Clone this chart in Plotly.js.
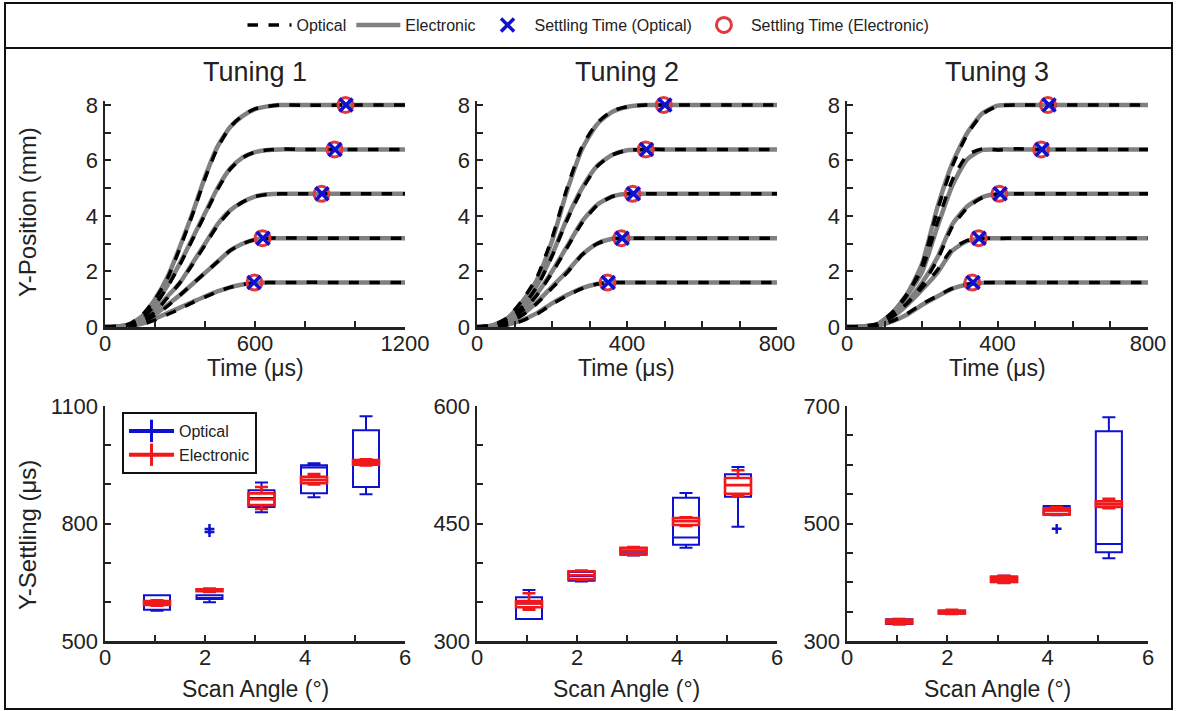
<!DOCTYPE html>
<html><head><meta charset="utf-8">
<script src="https://cdn.plot.ly/plotly-3.0.1.min.js"></script>
<style>html,body{margin:0;padding:0;background:#fff}#chart{width:1177px;height:711px}</style>
</head><body><div id="chart"></div>
<script>
// ---------- data ----------
const targets = [1.6, 3.2, 4.8, 6.4, 8.0];

// Tuning 1 step responses (time in µs, position in mm); rows = 1.6, 3.2, 4.8, 6.4, 8.0 mm
const timeT1 = [0,50,100,150,200,250,300,350,400,450,500,550,600,650,700,800,1000,1200];
const elecT1 = [
  [0,0.01,0.04,0.12,0.3,0.5,0.7,0.9,1.1,1.28,1.43,1.53,1.59,1.6,1.6,1.6,1.6,1.6],
  [0,0.02,0.06,0.2,0.45,0.8,1.15,1.55,1.95,2.35,2.75,3.0,3.15,3.2,3.2,3.2,3.2,3.2],
  [0,0.02,0.07,0.25,0.6,1.1,1.6,2.3,3.0,3.7,4.2,4.5,4.7,4.78,4.8,4.8,4.8,4.8],
  [0,0.02,0.08,0.3,0.8,1.5,2.3,3.2,4.1,5.0,5.7,6.1,6.3,6.38,6.4,6.4,6.4,6.4],
  [0,0.02,0.1,0.4,1.0,1.8,2.9,4.1,5.4,6.5,7.2,7.6,7.85,7.95,8.0,8.0,8.0,8.0]
];
const optT1 = [
  [0,0.01,0.03,0.1,0.25,0.45,0.65,0.88,1.08,1.27,1.43,1.53,1.59,1.6,1.6,1.61,1.6,1.6],
  [0,0.01,0.05,0.18,0.42,0.75,1.15,1.55,1.95,2.35,2.75,3.0,3.15,3.2,3.21,3.2,3.2,3.2],
  [0,0.02,0.06,0.22,0.55,1.05,1.6,2.25,2.95,3.65,4.18,4.5,4.7,4.78,4.8,4.8,4.8,4.8],
  [0,0.02,0.09,0.32,0.8,1.45,2.25,3.15,4.05,4.95,5.68,6.1,6.3,6.38,6.41,6.4,6.4,6.4],
  [0,0.02,0.12,0.45,1.0,1.75,2.85,4.05,5.35,6.45,7.2,7.62,7.86,7.95,8.0,7.99,8.0,8.0]
];
const settleElecT1 = [598, 630, 866, 918, 962];
const settleOptT1  = [596, 632, 868, 920, 964];

// Tuning 2
const timeT2 = [0,40,80,120,160,200,240,280,320,360,400,450,500,600,700,800];
const elecT2 = [
  [0,0.02,0.08,0.25,0.5,0.85,1.15,1.4,1.55,1.6,1.6,1.6,1.6,1.6,1.6,1.6],
  [0,0.03,0.15,0.45,0.9,1.45,2.0,2.6,3.0,3.18,3.2,3.2,3.2,3.2,3.2,3.2],
  [0,0.04,0.2,0.6,1.2,2.0,2.9,3.8,4.4,4.7,4.8,4.8,4.8,4.8,4.8,4.8],
  [0,0.05,0.25,0.75,1.5,2.6,3.9,5.0,5.8,6.2,6.37,6.4,6.4,6.4,6.4,6.4],
  [0,0.05,0.3,0.9,1.7,3.1,4.9,6.4,7.3,7.75,7.93,8.0,8.0,8.0,8.0,8.0]
];
const optT2 = [
  [0,0.02,0.07,0.22,0.47,0.82,1.13,1.38,1.55,1.6,1.6,1.6,1.6,1.6,1.6,1.6],
  [0,0.03,0.14,0.42,0.85,1.4,1.95,2.6,3.0,3.18,3.2,3.2,3.2,3.2,3.2,3.2],
  [0,0.04,0.19,0.58,1.15,1.95,2.85,3.75,4.38,4.7,4.8,4.8,4.8,4.8,4.8,4.8],
  [0,0.05,0.24,0.72,1.45,2.55,3.85,4.95,5.78,6.2,6.37,6.4,6.4,6.4,6.4,6.4],
  [0,0.06,0.32,0.95,1.8,3.2,5.0,6.5,7.35,7.78,7.94,8.0,8.0,8.0,8.0,8.0]
];
const settleElecT2 = [348, 385, 415, 450, 498];
const settleOptT2  = [350, 387, 417, 452, 501];

// Tuning 3
const timeT3 = [0,40,80,120,160,200,240,280,320,360,400,450,500,600,700,800];
const elecT3 = [
  [0,0.01,0.05,0.2,0.45,0.8,1.1,1.38,1.53,1.59,1.6,1.6,1.6,1.6,1.6,1.6],
  [0,0.02,0.08,0.35,0.8,1.35,1.95,2.75,3.1,3.19,3.2,3.2,3.2,3.2,3.2,3.2],
  [0,0.02,0.08,0.4,0.9,1.6,2.5,3.7,4.35,4.68,4.79,4.8,4.8,4.8,4.8,4.8],
  [0,0.02,0.1,0.5,1.15,2.0,3.6,5.1,6.05,6.38,6.4,6.4,6.4,6.4,6.4,6.4],
  [0,0.02,0.1,0.5,1.2,2.3,4.3,5.9,7.0,7.7,7.98,8.0,8.0,8.0,8.0,8.0]
];
const optT3 = [
  [0,0.01,0.05,0.21,0.48,0.83,1.12,1.39,1.54,1.6,1.6,1.6,1.6,1.6,1.6,1.6],
  [0,0.02,0.09,0.38,0.85,1.42,2.05,2.82,3.12,3.2,3.19,3.2,3.2,3.2,3.2,3.2],
  [0,0.02,0.07,0.37,0.86,1.52,2.42,3.62,4.3,4.66,4.78,4.8,4.8,4.8,4.8,4.8],
  [0,0.02,0.11,0.52,1.2,2.1,3.75,5.3,6.2,6.42,6.38,6.42,6.4,6.4,6.4,6.4],
  [0,0.02,0.09,0.47,1.15,2.25,4.2,5.8,6.95,7.67,7.96,8.0,8.0,8.0,8.0,8.0]
];
const settleElecT3 = [333, 350, 405, 516, 534];
const settleOptT3  = [335, 351, 407, 518, 537];

// Box-plot summaries of Y-settling (µs) vs scan angle (°)
const angles = [1.04, 2.09, 3.13, 4.18, 5.22];
const optQ1T1 = [580, 607, 842, 877, 893],  optMedT1 = [598, 610, 865, 943, 955], optQ3T1 = [617, 617, 885, 949, 1038], optLoT1 = [577, 599, 829, 867, 875], optHiT1 = [617, 617, 905, 954, 1074];
const eleQ1T1 = [592, 627, 847, 903, 950],  eleMedT1 = [597, 630, 862, 911, 957], eleQ3T1 = [602, 632, 877, 919, 962], eleLoT1 = [590, 625, 837, 900, 948], eleHiT1 = [604, 634, 893, 926, 964];
const outXT1 = [2.09, 2.09], outYT1 = [786, 778];

const optQ1T2 = [328, 377, 410, 423, 484], optMedT2 = [348, 383, 414, 432, 508], optQ3T2 = [356, 388, 418, 483, 513], optLoT2 = [328, 376, 409, 419, 446], optHiT2 = [365, 389, 419, 489, 522];
const eleQ1T2 = [343, 379, 411, 448, 488], eleMedT2 = [348, 384, 415, 453, 499], eleQ3T2 = [351, 389, 419, 457, 508], eleLoT2 = [340, 378, 410, 447, 485], eleHiT2 = [361, 390, 420, 458, 518];

const optQ1T3 = [329, 347, 400, 515, 451], optMedT3 = [333, 350, 405, 522, 465], optQ3T3 = [337, 351, 410, 530, 657], optLoT3 = [328, 346, 399, 514, 441], optHiT3 = [338, 352, 411, 530, 681];
const eleQ1T3 = [330, 347, 401, 516, 528], eleMedT3 = [333, 350, 405, 522, 533], eleQ3T3 = [336, 352, 409, 526, 538], eleLoT3 = [329, 346, 399, 515, 526], eleHiT3 = [337, 353, 411, 528, 542];
const outXT3 = [4.18], outYT3 = [491];

// ---------- styling ----------
const FONT = 'Liberation Sans, Arial, sans-serif';
const NARROW = 'Liberation Sans Narrow, Liberation Sans, Arial, sans-serif';
const INK = '#222';
const BLUE = '#1010d0', RED = '#f01818', CIRC = '#e0393e', GRAY = '#808080';
const W = 1177, H = 711;
const px = v => v / W, py = v => 1 - v / H;

const traces = [];
function addTuning(t, elec, opt, setE, setO, xa, ya, first) {
  elec.forEach((y, i) => traces.push({
    type: 'scatter', mode: 'lines', x: t, y: y, xaxis: xa, yaxis: ya,
    line: {color: GRAY, width: 4.5, shape: 'spline', smoothing: 0.6},
    name: 'Electronic', legendgroup: 'elec', legendrank: 2,
    showlegend: first && i === 0, hoverinfo: 'skip'
  }));
  opt.forEach((y, i) => traces.push({
    type: 'scatter', mode: 'lines', x: t, y: y, xaxis: xa, yaxis: ya,
    line: {color: '#000', width: 3.5, dash: 'dash', shape: 'spline', smoothing: 0.6},
    name: 'Optical', legendgroup: 'opt', legendrank: 1,
    showlegend: first && i === 0, hoverinfo: 'skip'
  }));
  traces.push({
    type: 'scatter', mode: 'markers', x: setE, y: targets, xaxis: xa, yaxis: ya, cliponaxis: false,
    marker: {symbol: 'circle-open', size: 15, color: CIRC, line: {width: 3}},
    name: 'Settling Time (Electronic)', legendgroup: 'se', legendrank: 4, showlegend: first, hoverinfo: 'skip'
  });
  traces.push({
    type: 'scatter', mode: 'markers', x: setO, y: targets, xaxis: xa, yaxis: ya, cliponaxis: false,
    marker: {symbol: 'x-thin-open', size: 13, color: BLUE, line: {width: 3.5}},
    name: 'Settling Time (Optical)', legendgroup: 'so', legendrank: 3, showlegend: first, hoverinfo: 'skip'
  });
}
addTuning(timeT1, elecT1, optT1, settleElecT1, settleOptT1, 'x', 'y', true);
addTuning(timeT2, elecT2, optT2, settleElecT2, settleOptT2, 'x2', 'y2', false);
addTuning(timeT3, elecT3, optT3, settleElecT3, settleOptT3, 'x3', 'y3', false);

function addBoxes(q1, med, q3, lo, hi, color, lw, xa, ya) {
  traces.push({
    type: 'box', x: angles, q1: q1, median: med, q3: q3, lowerfence: lo, upperfence: hi,
    xaxis: xa, yaxis: ya, width: 0.52, whiskerwidth: 0.5, boxpoints: false,
    line: {color: color, width: lw}, fillcolor: 'rgba(0,0,0,0)',
    showlegend: false, hoverinfo: 'skip'
  });
}
function addOutliers(xs, ys, xa, ya) {
  traces.push({
    type: 'scatter', mode: 'markers', x: xs, y: ys, xaxis: xa, yaxis: ya,
    marker: {symbol: 'cross-thin-open', size: 7, color: BLUE, line: {width: 2.5}},
    showlegend: false, hoverinfo: 'skip'
  });
}
addBoxes(optQ1T1, optMedT1, optQ3T1, optLoT1, optHiT1, BLUE, 2, 'x4', 'y4');
addBoxes(eleQ1T1, eleMedT1, eleQ3T1, eleLoT1, eleHiT1, RED, 2.6, 'x4', 'y4');
addOutliers(outXT1, outYT1, 'x4', 'y4');
addBoxes(optQ1T2, optMedT2, optQ3T2, optLoT2, optHiT2, BLUE, 2, 'x5', 'y5');
addBoxes(eleQ1T2, eleMedT2, eleQ3T2, eleLoT2, eleHiT2, RED, 2.6, 'x5', 'y5');
addBoxes(optQ1T3, optMedT3, optQ3T3, optLoT3, optHiT3, BLUE, 2, 'x6', 'y6');
addBoxes(eleQ1T3, eleMedT3, eleQ3T3, eleLoT3, eleHiT3, RED, 2.6, 'x6', 'y6');
addOutliers(outXT3, outYT3, 'x6', 'y6');

// legend-only entries for the box-plot key
[['Optical', BLUE], ['Electronic', RED]].forEach(([n, c]) => traces.push({
  type: 'scatter', mode: 'lines+markers', x: [null], y: [null], xaxis: 'x4', yaxis: 'y4',
  line: {color: c, width: 4}, marker: {symbol: 'line-ns-open', size: 16, color: c, line: {width: 3}},
  name: n, legend: 'legend2', hoverinfo: 'skip'
}));

function axis(domain, range, dtick, minor, anchor, isX) {
  return {
    domain: domain, range: range, anchor: anchor, tickmode: 'linear', tick0: range[0], dtick: dtick,
    ticks: 'inside', ticklen: 6, tickwidth: 2, tickcolor: INK,
    minor: {ticks: 'inside', dtick: minor, tick0: range[0], ticklen: 6, tickwidth: 2, tickcolor: INK, showgrid: false},
    showline: true, linecolor: INK, linewidth: 2.5, showgrid: false, zeroline: false,
    ticklabelstandoff: isX ? -5 : 0,
    tickfont: {family: FONT, size: 22, color: INK}, fixedrange: true
  };
}
const colX = [[px(105), px(405)], [px(477), px(777)], [px(847), px(1148)]];
const topY = [py(327), py(327 - 27.75 * 8.15)];
const botY = [py(641), py(406)];

const layout = {
  width: W, height: H, margin: {l: 0, r: 0, t: 0, b: 0},
  paper_bgcolor: '#fff', plot_bgcolor: 'rgba(0,0,0,0)',
  font: {family: FONT, color: INK}, boxmode: 'overlay', showlegend: true,
  xaxis:  axis(colX[0], [0, 1200], 600, 200, 'y', true),
  yaxis:  axis(topY, [0, 8.15], 2, 1, 'x'),
  xaxis2: axis(colX[1], [0, 800], 400, 100, 'y2', true),
  yaxis2: axis(topY, [0, 8.15], 2, 1, 'x2'),
  xaxis3: axis(colX[2], [0, 800], 400, 100, 'y3', true),
  yaxis3: axis(topY, [0, 8.15], 2, 1, 'x3'),
  xaxis4: axis(colX[0], [0, 6], 2, 1, 'y4', true),
  yaxis4: axis(botY, [500, 1100], 300, 100, 'x4'),
  xaxis5: axis(colX[1], [0, 6], 2, 1, 'y5', true),
  yaxis5: axis(botY, [300, 600], 150, 50, 'x5'),
  xaxis6: axis(colX[2], [0, 6], 2, 1, 'y6', true),
  yaxis6: axis(botY, [300, 700], 200, 50, 'x6'),
  legend: {
    orientation: 'h', x: 0.5, xanchor: 'center', y: py(25), yanchor: 'middle',
    font: {family: NARROW, size: 16, color: INK}, bgcolor: 'rgba(0,0,0,0)',
    itemwidth: 44, traceorder: 'normal'
  },
  legend2: {
    x: px(122), xanchor: 'left', y: py(412), yanchor: 'top',
    font: {family: FONT, size: 16, color: INK}, bgcolor: '#fff',
    bordercolor: '#111', borderwidth: 2, itemwidth: 45, tracegroupgap: 0
  },
  shapes: [
    {type: 'rect', xref: 'paper', yref: 'paper', x0: px(5), x1: px(1172), y0: py(709), y1: py(3), line: {color: '#111', width: 2}},
    {type: 'line', xref: 'paper', yref: 'paper', x0: px(5), x1: px(1172), y0: py(48), y1: py(48), line: {color: '#111', width: 2}}
  ],
  annotations: []
};
const ann = (text, x, y, size, angle) => layout.annotations.push({
  text: text, xref: 'paper', yref: 'paper', x: px(x), y: py(y), xanchor: 'center', yanchor: 'middle',
  showarrow: false, textangle: angle || 0, font: {family: FONT, size: size, color: INK}
});
ann('Tuning 1', 255, 72, 27); ann('Tuning 2', 627, 72, 27); ann('Tuning 3', 997, 72, 27);
ann('Time (μs)', 255, 368, 23); ann('Time (μs)', 627, 368, 23); ann('Time (μs)', 997, 368, 23);
ann('Scan Angle (°)', 255, 689, 23); ann('Scan Angle (°)', 627, 689, 23); ann('Scan Angle (°)', 997, 689, 23);
ann('Y-Position (mm)', 27, 212, 24, -90);
ann('Y-Settling (μs)', 27, 535, 24, -90);

Plotly.newPlot('chart', traces, layout, {staticPlot: true, displayModeBar: false});
</script>
</body></html>
